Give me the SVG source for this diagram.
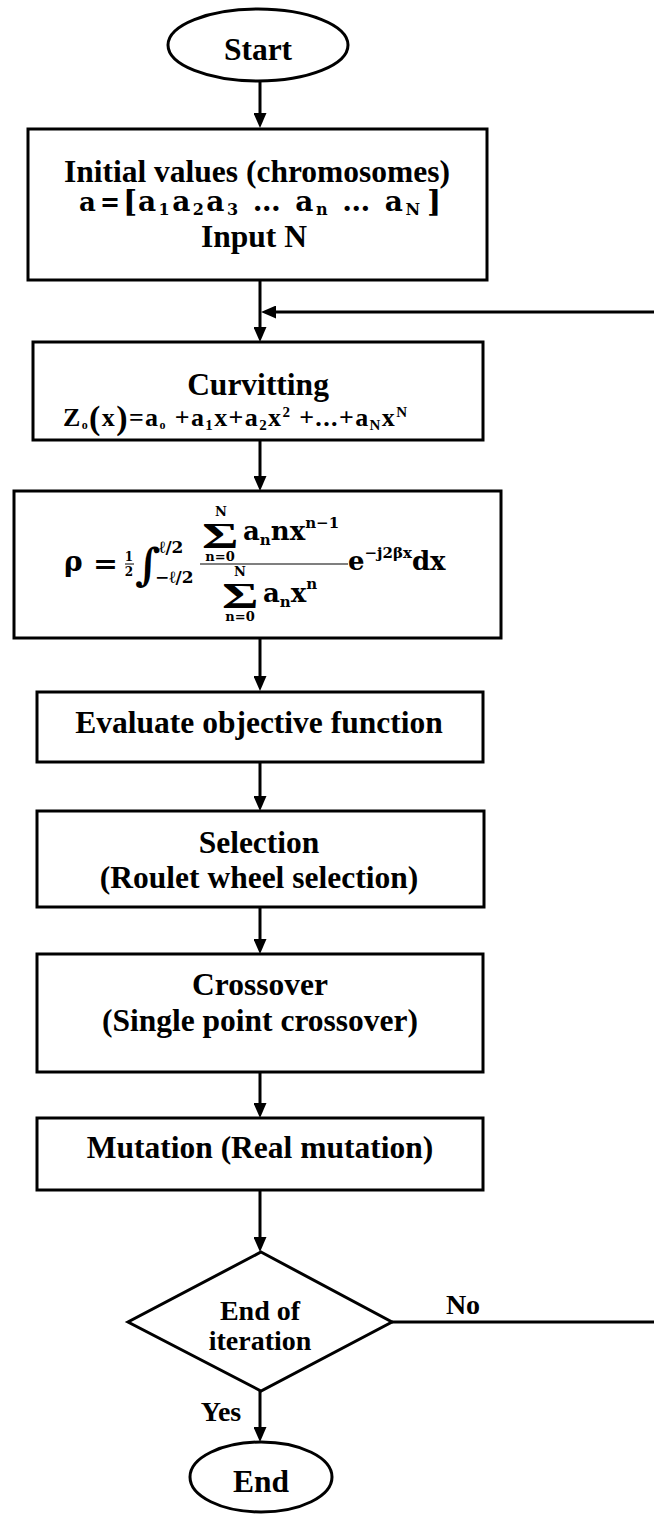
<svg xmlns="http://www.w3.org/2000/svg" width="654" height="1517" viewBox="0 0 654 1517">
<style>
.shape{fill:#fff;stroke:#000;stroke-width:3}
.t{font-family:"Liberation Serif","Times New Roman",serif;font-weight:bold;font-size:31.5px;text-anchor:middle;fill:#000}
.s{font-size:28px}
.m{font-family:"DejaVu Serif",serif;font-weight:bold;fill:#000}
.f{font-family:"Liberation Serif","Times New Roman",serif;font-weight:bold;fill:#000}
.c{fill:none;stroke:#000;stroke-width:3}
</style>
<defs>
<marker id="ah" viewBox="0 0 15 13" refX="5" refY="6.5" markerWidth="15" markerHeight="13" markerUnits="userSpaceOnUse" orient="auto">
<path d="M0,0 L15,6.5 L0,13 z" fill="#000"/>
</marker>
</defs>
<rect width="654" height="1517" fill="#fff"/>
<g id="connectors">
<line class="c" x1="260" y1="82" x2="260" y2="118" marker-end="url(#ah)"/>
<line class="c" x1="260" y1="280" x2="260" y2="332" marker-end="url(#ah)"/>
<line class="c" x1="654" y1="312" x2="271" y2="312" marker-end="url(#ah)"/>
<line class="c" x1="260" y1="440" x2="260" y2="481" marker-end="url(#ah)"/>
<line class="c" x1="260" y1="638" x2="260" y2="681" marker-end="url(#ah)"/>
<line class="c" x1="260" y1="762" x2="260" y2="801" marker-end="url(#ah)"/>
<line class="c" x1="260" y1="907" x2="260" y2="944" marker-end="url(#ah)"/>
<line class="c" x1="260" y1="1072" x2="260" y2="1108" marker-end="url(#ah)"/>
<line class="c" x1="260" y1="1190" x2="260" y2="1242" marker-end="url(#ah)"/>
<line class="c" x1="260" y1="1391" x2="260" y2="1432" marker-end="url(#ah)"/>
<line class="c" x1="392" y1="1322" x2="654" y2="1322"/>
<text class="t s" x="463" y="1314">No</text>
<text class="t s" x="221" y="1421">Yes</text>
</g>
<g id="start">
<ellipse class="shape" cx="258" cy="45" rx="90" ry="36"/>
<text class="t" x="258" y="60">Start</text>
</g>
<g id="init">
<rect class="shape" x="28" y="129" width="459" height="151"/>
<text class="t" x="257" y="182">Initial values (chromosomes)</text>
<text class="m" x="79" y="211" font-size="26">a</text>
<text class="m" x="100" y="211" font-size="26" textLength="20" lengthAdjust="spacingAndGlyphs">=</text>
<text class="m" x="123" y="212" font-size="30">[</text>
<text class="m" x="138" y="211" font-size="28" textLength="282" lengthAdjust="spacing">a<tspan font-size="16" dy="4">1</tspan><tspan dy="-4">a</tspan><tspan font-size="16" dy="4">2</tspan><tspan dy="-4">a</tspan><tspan font-size="16" dy="4">3</tspan><tspan dy="-4"> … a</tspan><tspan font-size="16" dy="4">n</tspan><tspan dy="-4"> … a</tspan><tspan font-size="16" dy="4">N</tspan></text>
<text class="m" x="427" y="212" font-size="30">]</text>
<text class="t" x="254" y="247">Input N</text>
</g>
<g id="curvitting">
<rect class="shape" x="33" y="342" width="450" height="98"/>
<text class="t" x="258" y="395">Curvitting</text>
<text class="f" x="63" y="426" font-size="26" textLength="344" lengthAdjust="spacing">Z<tspan font-size="12" dy="3">o</tspan><tspan font-size="34" dy="0">(</tspan><tspan dy="-3">x</tspan><tspan font-size="34" dy="3">)</tspan><tspan dy="-3">=a</tspan><tspan font-size="12" dy="3">o</tspan><tspan dy="-3"> +a</tspan><tspan font-size="15" dy="4">1</tspan><tspan dy="-4">x+a</tspan><tspan font-size="15" dy="4">2</tspan><tspan dy="-4">x</tspan><tspan font-size="15" dy="-9">2</tspan><tspan dy="9"> +...+a</tspan><tspan font-size="15" dy="4">N</tspan><tspan dy="-4">x</tspan><tspan font-size="15" dy="-9">N</tspan></text>
</g>
<g id="rho">
<rect class="shape" x="14" y="491" width="487" height="147"/>
<text class="m" x="64" y="571" font-size="28">ρ</text>
<text class="m" x="93" y="573" font-size="28" textLength="25" lengthAdjust="spacingAndGlyphs">=</text>
<text class="m" x="129" y="561" font-size="12" text-anchor="middle">1</text>
<line x1="125" y1="564" x2="134" y2="564" stroke="#000" stroke-width="1"/>
<text class="m" x="129" y="576" font-size="12" text-anchor="middle">2</text>
<text class="m" x="135" y="580" font-size="44">∫</text>
<text class="m" x="159" y="553" font-size="17" font-weight="normal">ℓ/2</text>
<text class="m" x="155" y="583" font-size="17" font-weight="normal">−ℓ/2</text>
<line x1="200" y1="564" x2="348" y2="564" stroke="#555" stroke-width="1.5"/>
<text class="m" x="221" y="516" font-size="13" text-anchor="middle">N</text>
<text class="f" font-size="36" transform="translate(202,548) scale(1.55,1)">Σ</text>
<text class="m" x="220" y="561" font-size="13" text-anchor="middle">n=0</text>
<text class="m" x="243" y="540" font-size="26">a<tspan font-size="15" dy="5">n</tspan><tspan dy="-5">nx</tspan><tspan font-size="15" dy="-12">n−1</tspan></text>
<text class="m" x="240" y="576" font-size="13" text-anchor="middle">N</text>
<text class="f" font-size="36" transform="translate(222,608) scale(1.55,1)">Σ</text>
<text class="m" x="240" y="621" font-size="13" text-anchor="middle">n=0</text>
<text class="m" x="263" y="602" font-size="26">a<tspan font-size="15" dy="5">n</tspan><tspan dy="-5">x</tspan><tspan font-size="15" dy="-13">n</tspan></text>
<text class="m" x="348" y="570" font-size="26">e<tspan font-size="15" dy="-12">−j2βx</tspan><tspan dy="12">dx</tspan></text>
</g>
<g id="evaluate">
<rect class="shape" x="37" y="692" width="446" height="70"/>
<text class="t" x="259" y="733">Evaluate objective function</text>
</g>
<g id="selection">
<rect class="shape" x="37" y="811" width="447" height="96"/>
<text class="t" x="259" y="853">Selection</text>
<text class="t" x="259" y="888">(Roulet wheel selection)</text>
</g>
<g id="crossover">
<rect class="shape" x="37" y="954" width="446" height="118"/>
<text class="t" x="260" y="995">Crossover</text>
<text class="t" x="260" y="1031">(Single point crossover)</text>
</g>
<g id="mutation">
<rect class="shape" x="37" y="1118" width="446" height="72"/>
<text class="t" x="260" y="1158">Mutation (Real mutation)</text>
</g>
<g id="decision">
<polygon class="shape" points="261,1252 392,1322 261,1391 128,1322"/>
<text class="t s" x="260" y="1320">End of</text>
<text class="t s" x="260" y="1350">iteration</text>
</g>
<g id="end">
<ellipse class="shape" cx="261" cy="1477" rx="71" ry="35"/>
<text class="t" x="261" y="1492">End</text>
</g>
</svg>
